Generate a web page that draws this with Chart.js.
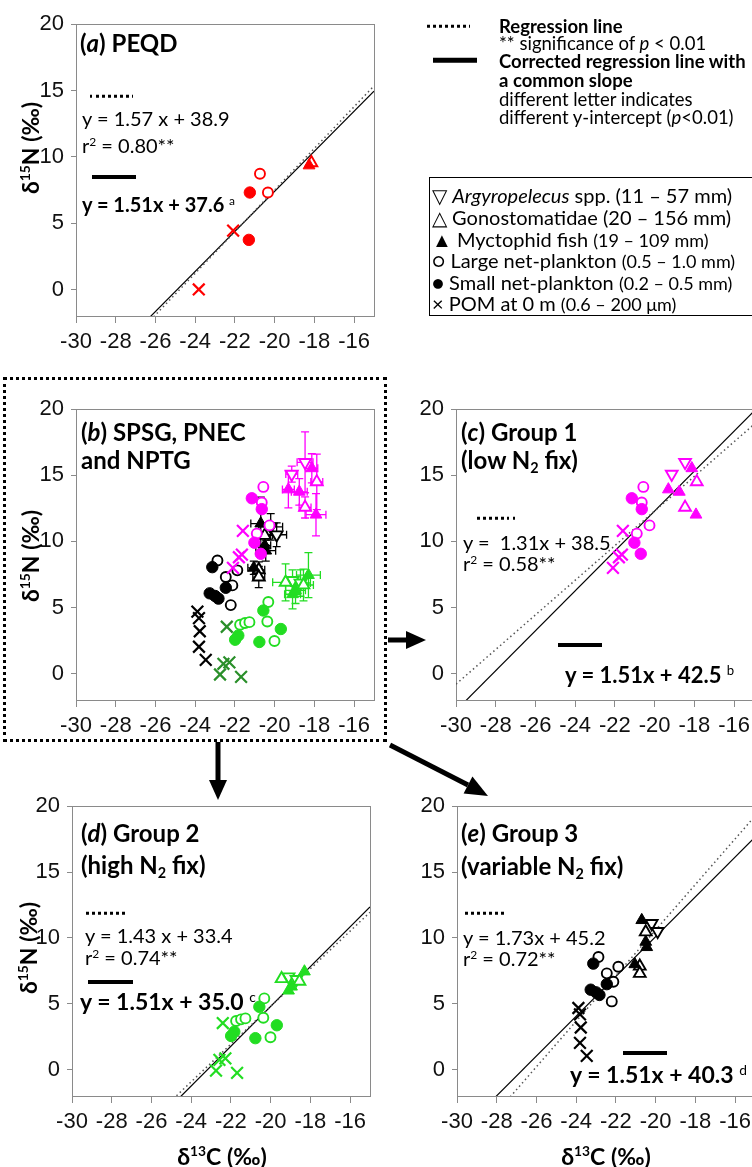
<!DOCTYPE html>
<html><head><meta charset="utf-8">
<script src="https://cdn.jsdelivr.net/npm/chart.js@4/dist/chart.umd.min.js"></script>
<style>
html,body{margin:0;padding:0;background:#fff;width:752px;height:1167px;overflow:hidden;}
body{position:relative;font-family:Lato,"Open Sans",sans-serif;color:#000;}
canvas{position:absolute;}
.t{position:absolute;white-space:nowrap;line-height:1.2;transform:translateY(-50%);}
sup{font-size:0.6em;line-height:0;vertical-align:0.6em;}
sub{font-size:0.6em;line-height:0;vertical-align:-0.3em;}
.sm{font-size:0.9em;}
.dots{position:absolute;height:2.5px;transform:translateY(-50%);background:repeating-linear-gradient(90deg,#000 0 2.5px,transparent 2.5px 6px);}
.bar{position:absolute;height:4px;transform:translateY(-50%);background:#000;}
.ytitle{position:absolute;white-space:nowrap;font-weight:bold;font-size:23px;line-height:1;transform:translate(-50%,-50%) rotate(-90deg);}
.xtitle{position:absolute;white-space:nowrap;font-weight:bold;font-size:23px;line-height:1;transform:translate(-50%,-50%);}
#box{position:absolute;left:3px;top:377px;width:378px;height:359px;border:3px dotted #000;}
#leg{position:absolute;left:429px;top:177px;width:360px;height:137px;border:1.5px solid #000;}
</style></head><body>
<div id="box"></div>
<div id="leg"></div>
<svg width="752" height="1167" style="position:absolute;left:0;top:0;">
  <line x1="388" y1="640" x2="410" y2="640" stroke="#000" stroke-width="5"/>
  <polygon points="406,631 426,640 406,649" fill="#000"/>
  <line x1="218" y1="742" x2="218" y2="782" stroke="#000" stroke-width="5"/>
  <polygon points="209,780 218,800 227,780" fill="#000"/>
  <line x1="390" y1="745" x2="468" y2="785" stroke="#000" stroke-width="5"/>
  <polygon points="463.6,793.6 488,796 472.4,776.4" fill="#000"/>
</svg>
<script>
// ---------- axes ----------
const xTicks = [-30, -28, -26, -24, -22, -20, -18, -16];
const yTicks = [0, 5, 10, 15, 20];
const xRange = [-30, -15];
const yRange = [-2, 20];

// ---------- (a) PEQD, red ----------
const pequdArg = [];
const pequdGono = [[-18.15, 9.55]];
const pequdMyct = [[-18.27, 9.35]];
const pequdLarge = [[-20.74, 8.73], [-20.34, 7.31]];
const pequdSmall = [[-21.30, 3.74], [-21.25, 7.31]];
const pequdPom = [[-23.82, 0.0], [-22.09, 4.43]];

// ---------- Group 1 (magenta) fish: [d13C, d15N, xErr, yErr] ----------
const g1Arg = [[-18.47, 15.98, 0.4, 2.3], [-19.14, 15.09, 0.3, 0.6]];
const g1Gono = [[-17.88, 14.5, 0.3, 2.1], [-18.47, 12.57, 0.3, 0.8]];
const g1Myct = [[-18.13, 15.53, 0.3, 1.1], [-19.31, 13.93, 0.3, 1.4], [-18.76, 13.75, 0.4, 1.0], [-17.92, 12.02, 0.5, 1.6]];
const g1Large = [[-20.57, 14.12], [-20.65, 12.94], [-20.26, 11.21], [-20.9, 10.59]];
const g1Small = [[-21.15, 13.26], [-20.65, 12.44], [-21.02, 9.9], [-20.7, 9.06]];
const g1Pom = [[-21.6, 10.8], [-21.65, 9.0], [-21.8, 8.8], [-22.1, 8.0]];

// ---------- Group 2 (green) ----------
const g2Arg = [[-19.1, 7.05, 0.4, 0.8], [-18.7, 6.85, 0.5, 1.0]];
const g2Gono = [[-19.45, 6.9, 0.65, 1.4], [-18.55, 6.7, 0.5, 1.2]];
const g2Myct = [[-19.1, 6.0, 0.4, 1.1], [-18.95, 6.3, 0.5, 1.0], [-18.3, 7.45, 0.6, 1.7]];
const g2Large = [[-20.32, 5.41], [-20.37, 3.94], [-21.74, 3.69], [-21.49, 3.82], [-21.27, 3.89], [-20.01, 2.46]];
const g2Small = [[-20.57, 4.77], [-21.83, 2.88], [-21.99, 2.56], [-19.69, 3.37], [-20.77, 2.39]];
const g2Pom = [[-22.41, 3.54], [-22.58, 0.74], [-22.28, 0.85], [-22.75, -0.07], [-21.69, -0.25]];

// ---------- Group 3 (black) ----------
const g3Arg = [[-20.2, 11.1, 0.6, 1.0], [-19.9, 10.5, 0.5, 0.9]];
const g3Gono = [[-20.5, 10.45, 0.4, 0.7], [-20.8, 7.85, 0.3, 0.6], [-20.8, 7.3, 0.3, 0.8]];
const g3Myct = [[-20.7, 11.35, 0.5, 2.0], [-20.5, 9.7, 0.3, 0.6], [-20.45, 9.3, 0.5, 0.8], [-21.05, 8.0, 0.3, 0.5]];
const g3Large = [[-22.88, 8.55], [-22.46, 7.31], [-21.88, 7.81], [-22.13, 6.67], [-22.21, 5.18]];
const g3Small = [[-23.14, 8.05], [-23.27, 6.07], [-23.0, 5.87], [-22.83, 5.67], [-22.46, 6.49]];
const g3Pom = [[-23.89, 4.68], [-23.81, 4.19], [-23.77, 3.2], [-23.81, 2.03], [-23.47, 1.04]];

// ---------- regressions (panels a, c, d, e) ----------
const fitSlope = [1.57, 1.31, 1.43, 1.73];
const fitIntercept = [38.9, 38.5, 33.4, 45.2];
const commonSlope = 1.51;
const commonIntercept = [37.6, 42.5, 35.0, 40.3];

// ---------- styling ----------
const C_RED = '#ff0000', C_MAG = '#ff00ff', C_GRN = '#22dd22', C_GRN_DARK = '#2a8f2a', C_BLK = '#000000';
const STYLE = {
  arg:  {ps: 'triangle', rot: 180, r: 6.8, open: true},
  gono: {ps: 'triangle', rot: 0, r: 6.8, open: true},
  myct: {ps: 'triangle', rot: 0, r: 6.8, open: false},
  large:{ps: 'circle', rot: 0, r: 5, open: true},
  small:{ps: 'circle', rot: 0, r: 5.7, open: false},
  pom:  {ps: 'crossRot', rot: 0, r: 8.3, open: false}
};
function toPts(arr) { return arr.map(p => ({x: p[0], y: p[1], xe: p[2] || 0, ye: p[3] || 0})); }
function sds(arr, kind, color, err) {
  const s = STYLE[kind];
  return {type: 'scatter', data: toPts(arr), pointStyle: s.ps, pointRotation: s.rot, pointRadius: s.r, pointHoverRadius: s.r,
    pointBorderColor: color, pointBackgroundColor: s.open ? '#ffffff' : color,
    pointBorderWidth: kind === 'pom' ? 2.2 : (s.open ? 1.9 : 1), borderColor: color, backgroundColor: color,
    showLine: false, errBars: !!err, errColor: color, order: 1};
}
function groupSets(g, color, err, pomColor) {
  return [sds(g.pom, 'pom', pomColor || color), sds(g.small, 'small', color), sds(g.large, 'large', color),
          sds(g.myct, 'myct', color, err), sds(g.gono, 'gono', color, err), sds(g.arg, 'arg', color, err)];
}
function regLine(m, b, dotted) {
  return {type: 'line', data: xRange.map(x => ({x: x, y: m * x + b})), borderColor: dotted ? '#555' : '#000',
    borderWidth: dotted ? 1.5 : 1.2, borderDash: dotted ? [1.5, 3] : [], pointRadius: 0, fill: false, order: 5, tension: 0};
}
const pequd = {arg: pequdArg, gono: pequdGono, myct: pequdMyct, large: pequdLarge, small: pequdSmall, pom: pequdPom};
const g1 = {arg: g1Arg, gono: g1Gono, myct: g1Myct, large: g1Large, small: g1Small, pom: g1Pom};
const g2 = {arg: g2Arg, gono: g2Gono, myct: g2Myct, large: g2Large, small: g2Small, pom: g2Pom};
const g3 = {arg: g3Arg, gono: g3Gono, myct: g3Myct, large: g3Large, small: g3Small, pom: g3Pom};

const framePlugin = {
  id: 'frame',
  beforeDatasetsDraw(chart) {
    const a = chart.chartArea, ctx = chart.ctx;
    ctx.save(); ctx.strokeStyle = '#8a8a8a'; ctx.lineWidth = 1;
    ctx.strokeRect(Math.round(a.left) + 0.5, Math.round(a.top) + 0.5, Math.round(a.right - a.left), Math.round(a.bottom - a.top));
    ctx.restore();
  }
};
const errPlugin = {
  id: 'errbars',
  beforeDatasetsDraw(chart) {
    const ctx = chart.ctx, xs = chart.scales.x, ys = chart.scales.y, cap = 4;
    ctx.save(); ctx.lineWidth = 1.3;
    chart.data.datasets.forEach(ds => {
      if (!ds.errBars) return;
      ctx.strokeStyle = ds.errColor;
      ds.data.forEach(p => {
        const px = xs.getPixelForValue(p.x), py = ys.getPixelForValue(p.y);
        ctx.beginPath();
        if (p.xe) {
          const x1 = xs.getPixelForValue(p.x - p.xe), x2 = xs.getPixelForValue(p.x + p.xe);
          ctx.moveTo(x1, py); ctx.lineTo(x2, py);
          ctx.moveTo(x1, py - cap); ctx.lineTo(x1, py + cap);
          ctx.moveTo(x2, py - cap); ctx.lineTo(x2, py + cap);
        }
        if (p.ye) {
          const y1 = ys.getPixelForValue(p.y - p.ye), y2 = ys.getPixelForValue(p.y + p.ye);
          ctx.moveTo(px, y1); ctx.lineTo(px, y2);
          ctx.moveTo(px - cap, y1); ctx.lineTo(px + cap, y1);
          ctx.moveTo(px - cap, y2); ctx.lineTo(px + cap, y2);
        }
        ctx.stroke();
      });
    });
    ctx.restore();
  }
};

function makePanel(rect, datasets) {
  const padL = 72, padT = 14, padR = 18, padB = 52;
  const W = rect.R - rect.L + padL + padR, H = rect.B - rect.T + padT + padB;
  const cv = document.createElement('canvas');
  cv.width = W; cv.height = H;
  cv.style.left = (rect.L - padL) + 'px'; cv.style.top = (rect.T - padT) + 'px';
  cv.style.width = W + 'px'; cv.style.height = H + 'px';
  document.body.insertBefore(cv, document.body.firstChild);
  const tickFont = {family: '"Liberation Sans", Arial, sans-serif', size: 22};
  new Chart(cv, {
    type: 'scatter',
    data: {datasets: datasets},
    options: {
      responsive: false, animation: false, devicePixelRatio: 1,
      layout: {padding: {left: 0, top: padT, right: padR, bottom: 0}},
      plugins: {legend: {display: false}, tooltip: {enabled: false}},
      events: [],
      scales: {
        x: {type: 'linear', min: xRange[0], max: xRange[1],
          afterBuildTicks: s => { s.ticks = xTicks.map(v => ({value: v})); },
          afterFit: s => { s.height = padB; },
          ticks: {font: tickFont, color: '#111', padding: 6, maxRotation: 0, autoSkip: false},
          grid: {display: true, drawOnChartArea: false, drawTicks: true, tickLength: 7, color: '#8a8a8a'},
          border: {display: false}},
        y: {type: 'linear', min: yRange[0], max: yRange[1],
          afterBuildTicks: s => { s.ticks = yTicks.map(v => ({value: v})); },
          afterFit: s => { s.width = padL; },
          ticks: {font: tickFont, color: '#111', padding: 7},
          grid: {display: true, drawOnChartArea: false, drawTicks: true, tickLength: 5, color: '#8a8a8a'},
          border: {display: false}}
      }
    },
    plugins: [framePlugin, errPlugin]
  });
}

makePanel({L: 76, T: 18, R: 374, B: 316},
  [...groupSets(pequd, C_RED), regLine(fitSlope[0], fitIntercept[0], true), regLine(commonSlope, commonIntercept[0], false)]);
makePanel({L: 76, T: 403, R: 374, B: 700},
  [...groupSets(g1, C_MAG, true), ...groupSets(g2, C_GRN, true, C_GRN_DARK), ...groupSets(g3, C_BLK, true)]);
makePanel({L: 456, T: 403, R: 754, B: 700},
  [...groupSets(g1, C_MAG), regLine(fitSlope[1], fitIntercept[1], true), regLine(commonSlope, commonIntercept[1], false)]);
makePanel({L: 72, T: 800, R: 370, B: 1096},
  [...groupSets(g2, C_GRN), regLine(fitSlope[2], fitIntercept[2], true), regLine(commonSlope, commonIntercept[2], false)]);
makePanel({L: 457, T: 800, R: 755, B: 1096},
  [...groupSets(g3, C_BLK), regLine(fitSlope[3], fitIntercept[3], true), regLine(commonSlope, commonIntercept[3], false)]);

// ---------- text overlays ----------
function txt(html, x, y, css) {
  const d = document.createElement('div'); d.className = 't'; d.innerHTML = html;
  d.style.left = x + 'px'; d.style.top = y + 'px'; if (css) d.style.cssText += css;
  document.body.appendChild(d); return d;
}
function dots(x, y, w) { const d = document.createElement('div'); d.className = 'dots'; d.style.left = x + 'px'; d.style.top = y + 'px'; d.style.width = w + 'px'; document.body.appendChild(d); }
function bar(x, y, w, h) { const d = document.createElement('div'); d.className = 'bar'; d.style.left = x + 'px'; d.style.top = y + 'px'; d.style.width = w + 'px'; if (h) d.style.height = h + 'px'; document.body.appendChild(d); }
function ytitle(x, y) { const d = document.createElement('div'); d.className = 'ytitle'; d.innerHTML = 'δ<sup>15</sup>N (‰)'; d.style.left = x + 'px'; d.style.top = y + 'px'; document.body.appendChild(d); }
function xtitle(x, y) { const d = document.createElement('div'); d.className = 'xtitle'; d.innerHTML = 'δ<sup>13</sup>C (‰)'; d.style.left = x + 'px'; d.style.top = y + 'px'; document.body.appendChild(d); }

const TT = 'font-weight:bold;font-size:24px;';
const EQ = 'font-size:20px;';
// (a)
txt('(<i>a</i>) PEQD', 80, 43, TT);
dots(90, 96, 43);
txt('y = 1.57 x + 38.9', 82, 118, EQ);
txt('r<sup>2</sup> = 0.80**', 82, 145, EQ);
bar(92, 177, 44);
txt('y = 1.51x + 37.6 <sup style="font-weight:normal">a</sup>', 82, 204, 'font-weight:bold;font-size:20px;');
// (b)
txt('(<i>b</i>) SPSG, PNEC', 81, 432, TT);
txt('and NPTG', 81, 460, TT);
// (c)
txt('(<i>c</i>) Group 1', 461, 432, TT);
txt('(low N<sub>2</sub> fix)', 461, 460, TT);
dots(477, 518, 38);
txt('y =&nbsp; 1.31x + 38.5', 463, 542, EQ);
txt('r<sup>2</sup> = 0.58**', 463, 563, EQ);
bar(558, 645, 44);
txt('y = 1.51x + 42.5 <sup style="font-weight:normal">b</sup>', 565, 675, 'font-weight:bold;font-size:22px;');
// (d)
txt('(<i>d</i>) Group 2', 81, 833, TT);
txt('(high N<sub>2</sub> fix)', 81, 865, TT);
dots(86, 913, 40);
txt('y = 1.43 x + 33.4', 85, 935, EQ);
txt('r<sup>2</sup> = 0.74**', 85, 957, EQ);
bar(88, 982, 45);
txt('y = 1.51x + 35.0 <sup style="font-weight:normal">c</sup>', 80, 1002, 'font-weight:bold;font-size:23px;');
// (e)
txt('(<i>e</i>) Group 3', 461, 833, TT);
txt('(variable N<sub>2</sub> fix)', 461, 866, TT);
dots(465, 913, 41);
txt('y = 1.73x + 45.2', 463, 937, EQ);
txt('r<sup>2</sup> = 0.72**', 463, 958, EQ);
bar(623, 1053, 44);
txt('y = 1.51x + 40.3 <sup style="font-weight:normal">d</sup>', 570, 1075, 'font-weight:bold;font-size:23px;');

// axis titles
ytitle(30, 148); ytitle(30, 556); ytitle(28, 948);
xtitle(222, 1156); xtitle(606, 1156);

// legend
const LG = 'font-size:18.5px;';
const LI = 'font-size:20px;';
dots(427, 26, 43);
txt('Regression line', 499, 26, 'font-weight:bold;' + LG);
txt('** significance of <i>p</i> &lt; 0.01', 499, 43, LG);
bar(433, 60, 44, 4.5);
txt('Corrected regression line with', 499, 61, 'font-weight:bold;' + LG);
txt('a common slope', 499, 80, 'font-weight:bold;' + LG);
txt('different letter indicates', 499, 99, LG);
txt('different y-intercept (<i>p</i>&lt;0.01)', 499, 117, LG);
txt('▽ <i>Argyropelecus</i> spp. (11 – 57 mm)', 432, 195, LI);
txt('△ Gonostomatidae (20 – 156 mm)', 432, 217, LI);
txt('▲ Myctophid fish <span class="sm">(19 – 109 mm)</span>', 432, 239, LI);
txt('○ Large net-plankton <span class="sm">(0.5 – 1.0 mm)</span>', 432, 260, LI);
txt('● Small net-plankton <span class="sm">(0.2 – 0.5 mm)</span>', 432, 282, LI);
txt('× POM at 0 m <span class="sm">(0.6 – 200 μm)</span>', 432, 303, LI);
</script>
</body></html>
